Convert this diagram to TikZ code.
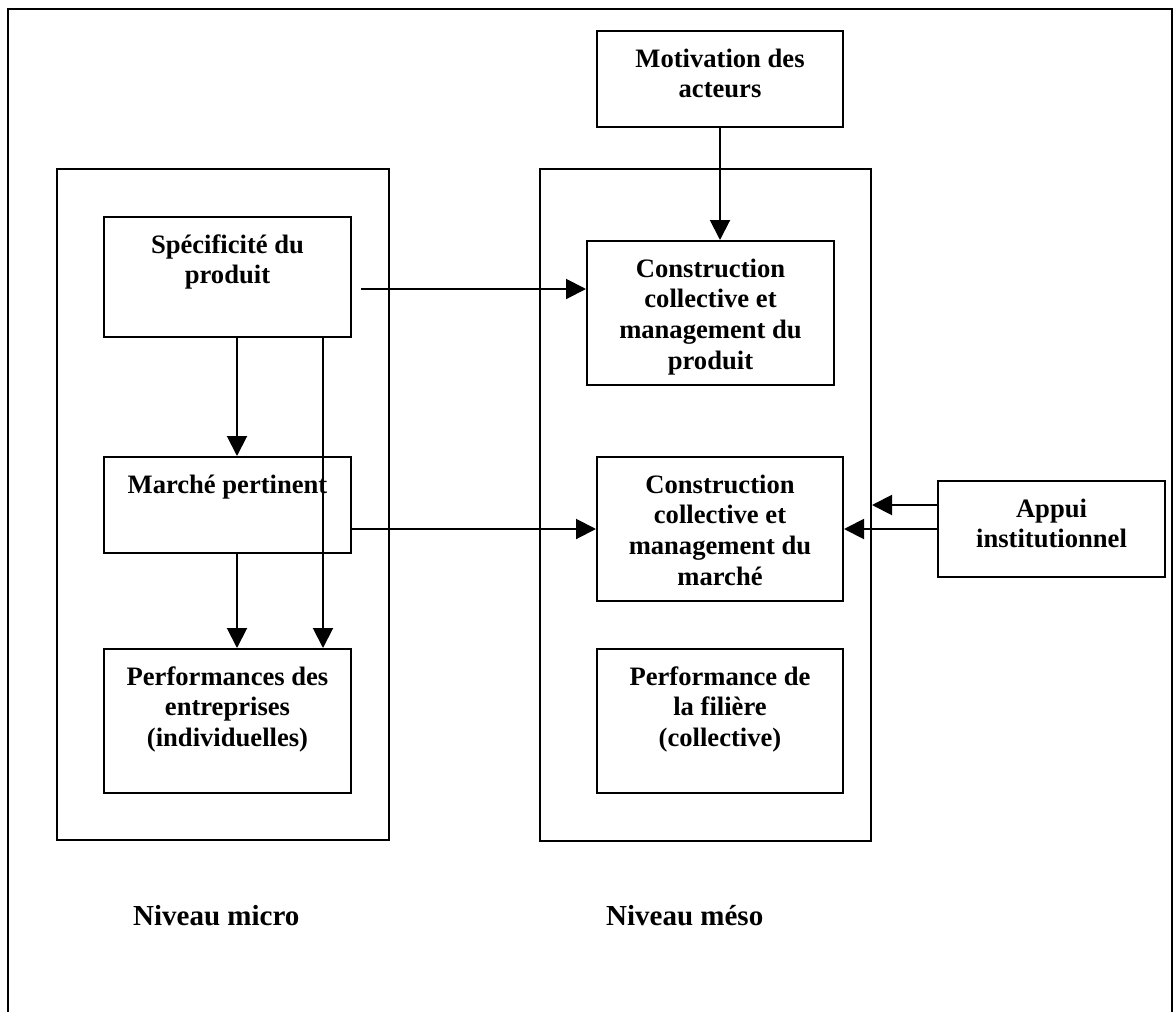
\documentclass[tikz,border=0pt]{standalone}
\usepackage{fontspec}
\setmainfont{Liberation Serif}
\usetikzlibrary{arrows.meta}

% text block of a box: fixed size, lines centred, first baseline 36 below the top
\newcommand{\boxtxt}[3]{\begin{minipage}[c][#2pt][t]{#1pt}\centering\rule{0pt}{36pt}#3\end{minipage}}

\tikzset{
  every node/.style={font=\fontsize{26.6pt}{30.7pt}\selectfont\bfseries},
  box/.style={draw, line width=2pt, inner sep=0pt, anchor=north west},
  frame/.style={draw, line width=2pt, inner sep=0pt, anchor=north west},
  arr/.style={line width=2pt, -{Triangle[length=20pt,width=20pt]}},
  lvl/.style={font=\fontsize{29pt}{33pt}\selectfont\bfseries, anchor=base west, inner sep=0pt}
}

\begin{document}
\begin{tikzpicture}[x=1pt,y=-1pt]
\useasboundingbox (0,0) rectangle (1173,1012);

% outer frame (open at the bottom)
\draw[line width=2pt] (8,1030) -- (8,9) -- (1172,9) -- (1172,1030);

% the two levels
\node[frame, minimum width=332pt, minimum height=671pt] (micro) at (56,168) {};
\node[frame, minimum width=331pt, minimum height=672pt] (meso) at (539,168) {};

% micro level
\node[box] (spec) at (103,216) {\boxtxt{247}{120}{Spécificité du\\produit}};
\node[box] (mp) at (103,456) {\boxtxt{247}{96}{Marché pertinent}};
\node[box] (pe) at (103,648) {\boxtxt{247}{144}{Performances des\\entreprises\\(individuelles)}};

% meso level
\node[box] (mot) at (596,30) {\boxtxt{246}{96}{Motivation des\\acteurs}};
\node[box] (cp) at (586,240) {\boxtxt{247}{144}{Construction\\collective et\\management du\\produit}};
\node[box] (cm) at (596,456) {\boxtxt{246}{144}{Construction\\collective et\\management du\\marché}};
\node[box] (pf) at (596,648) {\boxtxt{246}{144}{Performance de\\la filière\\(collective)}};
\node[box] (app) at (937,480) {\boxtxt{227}{96}{Appui\\institutionnel}};

% level labels
\node[lvl] (lmicro) at (133,925) {Niveau micro};
\node[lvl] (lmeso) at (606,925) {Niveau méso};

% connectors
\draw[arr] (mot.south) -- (mot.south |- cp.north);
\draw[arr] ([xshift=9pt,yshift=-12pt]spec.east) -- ([yshift=-12pt]spec.east -| cp.west);
\draw[arr] (mp.east |- cm.west) -- (cm.west);
\draw[arr] ([yshift=24pt]app.west) -- ([yshift=24pt]app.west -| meso.east);
\draw[arr] (app.west) -- (app.west -| cm.east);
\draw[arr] ([xshift=9.5pt]spec.south) -- ([xshift=9.5pt]spec.south |- mp.north);
\draw[arr] ([xshift=9.5pt]mp.south) -- ([xshift=9.5pt]mp.south |- pe.north);
\draw[arr] ([xshift=95.5pt]spec.south) -- ([xshift=95.5pt]spec.south |- pe.north);
\end{tikzpicture}
\end{document}
